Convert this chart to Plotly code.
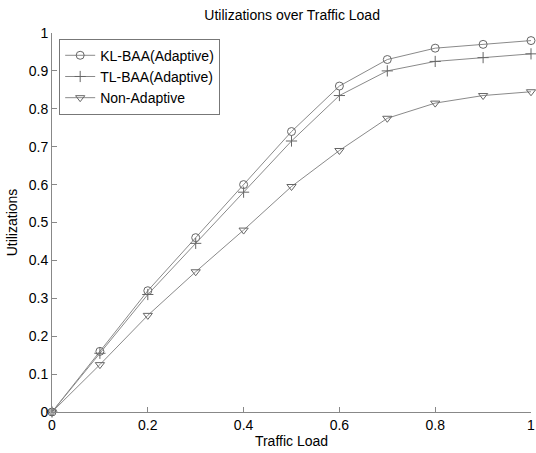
import plotly.graph_objects as go

traffic_load = [0, 0.1, 0.2, 0.3, 0.4, 0.5, 0.6, 0.7, 0.8, 0.9, 1.0]
kl_baa = [0, 0.16, 0.32, 0.46, 0.60, 0.74, 0.86, 0.93, 0.96, 0.97, 0.98]
tl_baa = [0, 0.155, 0.31, 0.445, 0.58, 0.715, 0.835, 0.90, 0.925, 0.935, 0.945]
non_adaptive = [0, 0.125, 0.255, 0.37, 0.48, 0.595, 0.69, 0.775, 0.815, 0.835, 0.845]

series = [
    ("KL-BAA(Adaptive)", kl_baa, "circle-open"),
    ("TL-BAA(Adaptive)", tl_baa, "cross-thin-open"),
    ("Non-Adaptive", non_adaptive, "triangle-down-open"),
]

fig = go.Figure()
for name, vals, sym in series:
    fig.add_trace(go.Scatter(
        x=traffic_load, y=vals, name=name, mode="lines+markers",
        line=dict(color="#8a8a8a", width=1),
        marker=dict(symbol=sym, size=8, color="#666666", line=dict(color="#666666", width=1)),
        cliponaxis=False,
    ))

font = "Liberation Sans, Arial, sans-serif"
fig.update_layout(
    width=536, height=453,
    margin=dict(l=52, r=5, t=33, b=41),
    paper_bgcolor="white", plot_bgcolor="white",
    font=dict(family=font, color="black", size=14),
    title=dict(text="Utilizations over Traffic Load", x=0.545, xanchor="center", y=0.966, yanchor="middle",
               font=dict(size=14, family=font, color="black")),
    showlegend=True,
    legend=dict(x=0.015, y=0.985, xanchor="left", yanchor="top",
                bgcolor="white", bordercolor="#777777", borderwidth=1,
                font=dict(size=14, family=font), tracegroupgap=0,
                itemwidth=30),
    xaxis=dict(range=[0, 1], tickvals=[0, 0.2, 0.4, 0.6, 0.8, 1], ticktext=["0", "0.2", "0.4", "0.6", "0.8", "1"],
               showgrid=False, zeroline=False, showline=True, linecolor="#888888", linewidth=1,
               ticks="inside", ticklen=5, tickcolor="#888888", ticklabeloverflow="allow", automargin=False,
               title=dict(text="Traffic Load", standoff=4, font=dict(size=14, family=font))),
    yaxis=dict(range=[0, 1], tickvals=[i / 10 for i in range(11)],
               ticktext=["0", "0.1", "0.2", "0.3", "0.4", "0.5", "0.6", "0.7", "0.8", "0.9", "1"],
               showgrid=False, zeroline=False, showline=True, linecolor="#888888", linewidth=1,
               ticks="inside", ticklen=5, tickcolor="#888888", automargin=False,
               title=dict(text="Utilizations", standoff=7, font=dict(size=14, family=font))),
)

fig.write_html("out.html")
